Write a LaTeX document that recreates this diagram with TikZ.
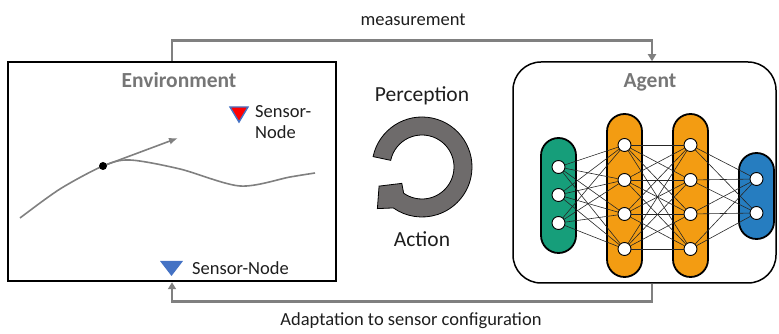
\documentclass[tikz,border=0pt]{standalone}
\usepackage{fontspec}
\setmainfont{Carlito}
\usepackage{tikz}
\usetikzlibrary{arrows.meta}

\definecolor{arrowgray}{RGB}{128,128,128}
\definecolor{titlegray}{RGB}{118,118,118}
\definecolor{ringgray}{RGB}{110,107,107}
\definecolor{textblack}{RGB}{30,30,30}
\definecolor{sensorblue}{RGB}{68,114,196}
\definecolor{nngreen}{RGB}{22,158,122}
\definecolor{nnorange}{RGB}{243,156,18}
\definecolor{nnblue}{RGB}{38,125,192}

\begin{document}
\begin{tikzpicture}[x=1pt, y=1pt,
  flow/.style={draw=arrowgray, line width=2.5pt, -{Triangle[length=7pt,width=8pt]}}, % 外側の矢印
  title/.style={font=\fontsize{21.5}{24}\selectfont\bfseries, text=titlegray, anchor=base},
  txt/.style={font=\fontsize{18.5}{21}\selectfont, text=textblack},
  bigtxt/.style={font=\fontsize{21.5}{24}\selectfont, text=textblack, anchor=base},
  layer/.style={draw=black, line width=1.8pt, rounded corners=17.5pt, minimum width=35pt, inner sep=0pt},
  neuron/.style={circle, draw=black, fill=white, line width=0.9pt, minimum size=13pt, inner sep=0pt},
  link/.style={draw=black!85, line width=0.6pt}]
  \useasboundingbox (0,0) rectangle (779,334); % 全体の大きさ

  % 環境とエージェント
  \node[draw=black, line width=2.5pt, minimum width=328pt, minimum height=219pt, inner sep=0pt] (env) at (172,162.5) {};
  \node[draw=black, line width=1.5pt, rounded corners=28pt, minimum width=263pt, minimum height=221pt, inner sep=0pt] (agent) at (644.5,161.5) {};
  \node[title] (envtitle) at (179,246) {Environment};
  \node[title] (agenttitle) at (650,246) {Agent};

  % 外側の矢印
  \draw[flow] (env.north) -- ++(0,20) -| ([xshift=7.5pt]agent.north);
  \draw[flow] ([xshift=7.5pt]agent.south) -- ++(0,-18) -| (env.south);
  \node[txt, anchor=base] (meas) at (413,308) {measurement};
  \node[txt, anchor=base] (adapt) at (411,8) {Adaptation to sensor configuration};

  % 軌道と接線
  \draw[arrowgray, line width=1.6pt] plot[smooth] coordinates {(20,116) (60,145) (103,168) (130,174) (180,165) (240,148) (290,157) (315,161)};
  \node[circle, fill=black, minimum size=8pt, inner sep=0pt] (pt) at (103,168) {};
  \coordinate (dir) at (178,196);
  \draw[arrowgray, line width=1.6pt, -{Latex[length=9pt,width=7pt]}] (pt) -- (dir); % 接線

  % センサーノード
  \draw[sensorblue, fill=red, line width=1.4pt, line join=miter] (230,227) -- (248,227) -- (239,212) -- cycle;
  \node[txt, align=left, anchor=west, inner sep=0pt] (sensortop) at (255,212) {Sensor-\\Node};
  \fill[sensorblue] (160,73) -- (183,73) -- (171.5,58) -- cycle;
  \node[txt, anchor=base west, inner sep=0pt] (sensorbot) at (192,59) {Sensor-Node};

  % 知覚と行動のサイクル
  \node[bigtxt] (perc) at (422,232) {Perception};
  \node[bigtxt] (act) at (422,87) {Action};
  \begin{scope}[shift={(422,167)}]
    \draw[fill=ringgray, draw=black, line width=0.8pt, line join=miter] (168:50) arc[start angle=168, end angle=-125, radius=50]
      -- (-137:61) -- (-156:47) -- (-141:26) -- (-125:32) arc[start angle=-125, end angle=168, radius=32] -- cycle;
  \end{scope}

  % ニューラルネットワーク
  \node[layer, fill=nngreen, minimum height=115pt] (inlayer) at (558.5,138.5) {};
  \node[layer, fill=nnorange, minimum height=163pt] (hidone) at (624.5,138.5) {};
  \node[layer, fill=nnorange, minimum height=163pt] (hidtwo) at (690.5,138.5) {};
  \node[layer, fill=nnblue, minimum height=86pt] (outlayer) at (756.5,138) {};
  \foreach \i/\y in {1/167,2/139,3/111}
    \node[neuron] (a\i) at (558.5,\y) {};
  \foreach \i/\y in {1/189,2/154,3/120,4/85} {
    \node[neuron] (b\i) at (624.5,\y) {};
    \node[neuron] (c\i) at (690.5,\y) {};
  }
  \foreach \i/\y in {1/155,2/121}
    \node[neuron] (d\i) at (756.5,\y) {};
  \foreach \i in {1,2,3}
    \foreach \j in {1,...,4}
      \draw[link] (a\i) -- (b\j);
  \foreach \i in {1,...,4}
    \foreach \j in {1,...,4}
      \draw[link] (b\i) -- (c\j);
  \foreach \i in {1,...,4}
    \foreach \j in {1,2}
      \draw[link] (c\i) -- (d\j);
\end{tikzpicture}
\end{document}
